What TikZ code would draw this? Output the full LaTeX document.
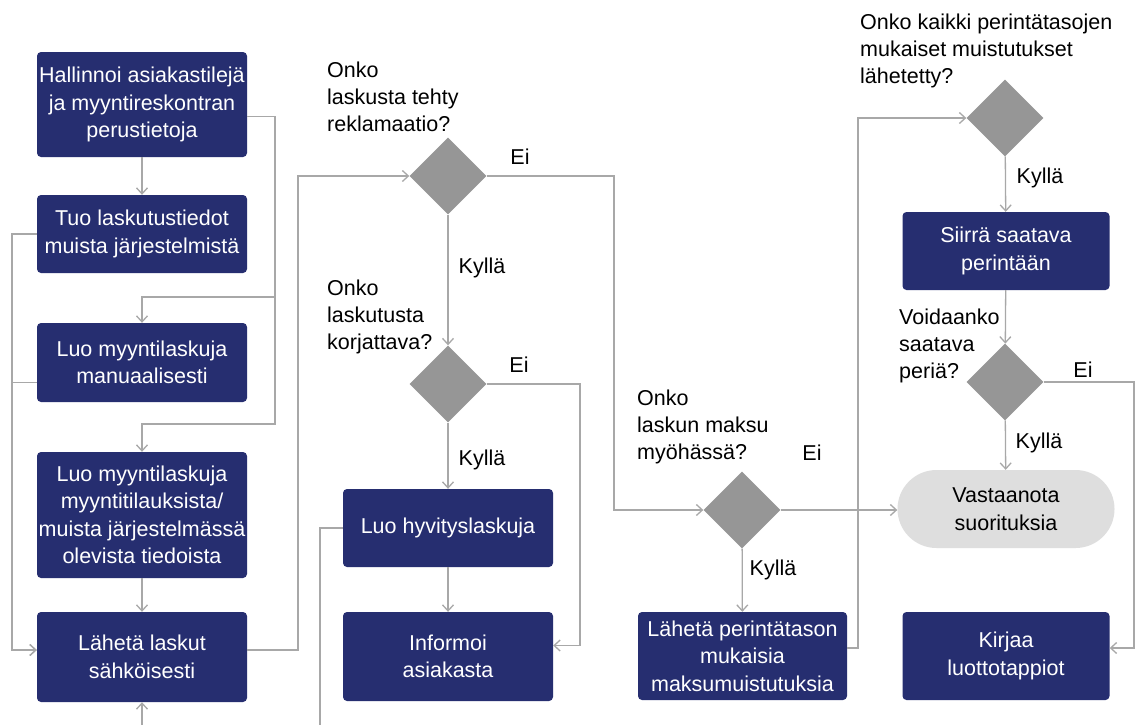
\documentclass[tikz,border=0pt]{standalone}
\usepackage{fontspec}
\setmainfont{Liberation Sans}
\usepackage{xcolor}
\usepackage{tikz}
\usetikzlibrary{shapes,arrows.meta,positioning}
\definecolor{NavyBox}{RGB}{38,46,112}
\definecolor{DiamondGrey}{RGB}{150,150,150}
\definecolor{PillGrey}{RGB}{222,222,222}
\definecolor{LineGrey}{RGB}{168,168,168}

\begin{document}
\begin{tikzpicture}[x=1pt,y=-1pt,
    box/.style={rectangle,rounded corners=4pt,fill=NavyBox,text=white,align=center,
        minimum width=210pt,inner sep=0pt,font=\fontsize{21.5}{27.5}\selectfont},
    pill/.style={rectangle,rounded corners=39pt,fill=PillGrey,text=black,align=center,
        minimum width=217pt,minimum height=78pt,inner sep=0pt,font=\fontsize{21.5}{27.5}\selectfont},
    decision/.style={diamond,fill=DiamondGrey,minimum width=77pt,minimum height=77pt,inner sep=0pt},
    question/.style={anchor=north west,align=left,inner sep=0pt,font=\fontsize{21.5}{27}\selectfont},
    answer/.style={inner sep=0pt,font=\fontsize{21.5}{27}\selectfont},
    flow/.style={-{Straight Barb[length=6pt,width=11pt]},line width=1.3pt,color=LineGrey}]
    \clip (0,0) rectangle (1137,724);
    \fill[white] (0,0) rectangle (1137,724);

    % Left column - invoicing steps
    \node[box,minimum height=105pt] (hallinnoi) at (142,104.5) {Hallinnoi asiakastilejä\\ja myyntireskontran\\perustietoja};
    \node[box,minimum height=78pt] (tuo) at (142,234) {Tuo laskutustiedot\\muista järjestelmistä};
    \node[box,minimum height=79pt] (manuaali) at (142,362.5) {Luo myyntilaskuja\\manuaalisesti};
    \node[box,minimum height=126pt] (tilaukset) at (142,515) {Luo myyntilaskuja\\myyntitilauksista/\\muista järjestelmässä\\olevista tiedoista};
    \node[box,minimum height=90pt] (laheta) at (142,657) {Lähetä laskut\\sähköisesti};

    % Middle column - complaints
    \node[decision] (reklamaatio) at (448,176) {};
    \node[question] at (327,62) {Onko\\laskusta tehty\\reklamaatio?};
    \node[answer] at (520,157) {Ei};
    \node[answer] at (482,268) {Kyllä};
    \node[decision] (korjaus) at (448,384) {};
    \node[question] at (327,280) {Onko\\laskutusta\\korjattava?};
    \node[answer] at (519,365) {Ei};
    \node[answer] at (482,460) {Kyllä};
    \node[box,minimum height=78pt] (hyvitys) at (448,528) {Luo hyvityslaskuja};
    \node[box,minimum height=89pt] (informoi) at (448,656.5) {Informoi\\asiakasta};

    % Payment overdue
    \node[decision] (myohassa) at (742,510) {};
    \node[question] at (637,390) {Onko\\laskun maksu\\myöhässä?};
    \node[answer] at (812,453) {Ei};
    \node[answer] at (773,570) {Kyllä};
    \node[box,minimum width=209pt,minimum height=88pt] (muistutus) at (742.5,656) {Lähetä perintätason\\mukaisia\\maksumuistutuksia};

    % Right column - collection
    \node[decision] (lahetetty) at (1005,118) {};
    \node[question] at (860,14) {Onko kaikki perintätasojen\\mukaiset muistutukset\\lähetetty?};
    \node[answer] at (1040,178) {Kyllä};
    \node[box,minimum width=207pt,minimum height=78pt] (siirra) at (1006,251) {Siirrä saatava\\perintään};
    \node[decision] (peria) at (1005,382) {};
    \node[question] at (899,309) {Voidaanko\\saatava\\periä?};
    \node[answer] at (1083,370) {Ei};
    \node[answer] at (1039,443) {Kyllä};
    \node[pill] (vastaanota) at (1006,509) {Vastaanota\\suorituksia};
    \node[box,minimum width=207pt,minimum height=88pt] (kirjaa) at (1006,656) {Kirjaa\\luottotappiot};

    % Connectors
    \draw[flow] (hallinnoi) -- (tuo);
    \draw[flow] ([yshift=-12pt]hallinnoi.east) -| (275,297) -| (manuaali.north);
    \draw[flow] ([yshift=-12pt]hallinnoi.east) -| (275,424) -| (tilaukset.north);
    \draw[flow] (tuo.west) -| (12,650) -- ([yshift=7pt]laheta.west);
    \draw[flow] ([yshift=-20pt]manuaali.west) -| (12,650) -- ([yshift=7pt]laheta.west);
    \draw[flow] (tilaukset) -- (laheta);
    \draw[flow] ([yshift=7pt]laheta.east) -- (298,650) |- (reklamaatio.west);
    \draw[flow] (reklamaatio) -- (korjaus);
    \draw[flow] (reklamaatio.east) -- (614,176) |- (myohassa.west);
    \draw[flow] (korjaus) -- (hyvitys);
    \draw[flow] (korjaus.east) -- (580,384) |- ([yshift=11pt]informoi.east);
    \draw[flow] (hyvitys) -- (informoi);
    \draw[flow] (hyvitys.west) -| (320,740) -| (laheta.south);
    \draw[flow] (myohassa) -- (muistutus);
    \draw[flow] (myohassa.east) -- (myohassa.east -| vastaanota.west);
    \draw[flow] ([yshift=8pt]muistutus.east) -- (858,648) |- (lahetetty.west);
    \draw[flow] (lahetetty) -- (siirra);
    \draw[flow] (siirra) -- (peria);
    \draw[flow] (peria) -- (vastaanota);
    \draw[flow] (peria.east) -- (1134,382) |- ([yshift=8pt]kirjaa.east);
\end{tikzpicture}
\end{document}
